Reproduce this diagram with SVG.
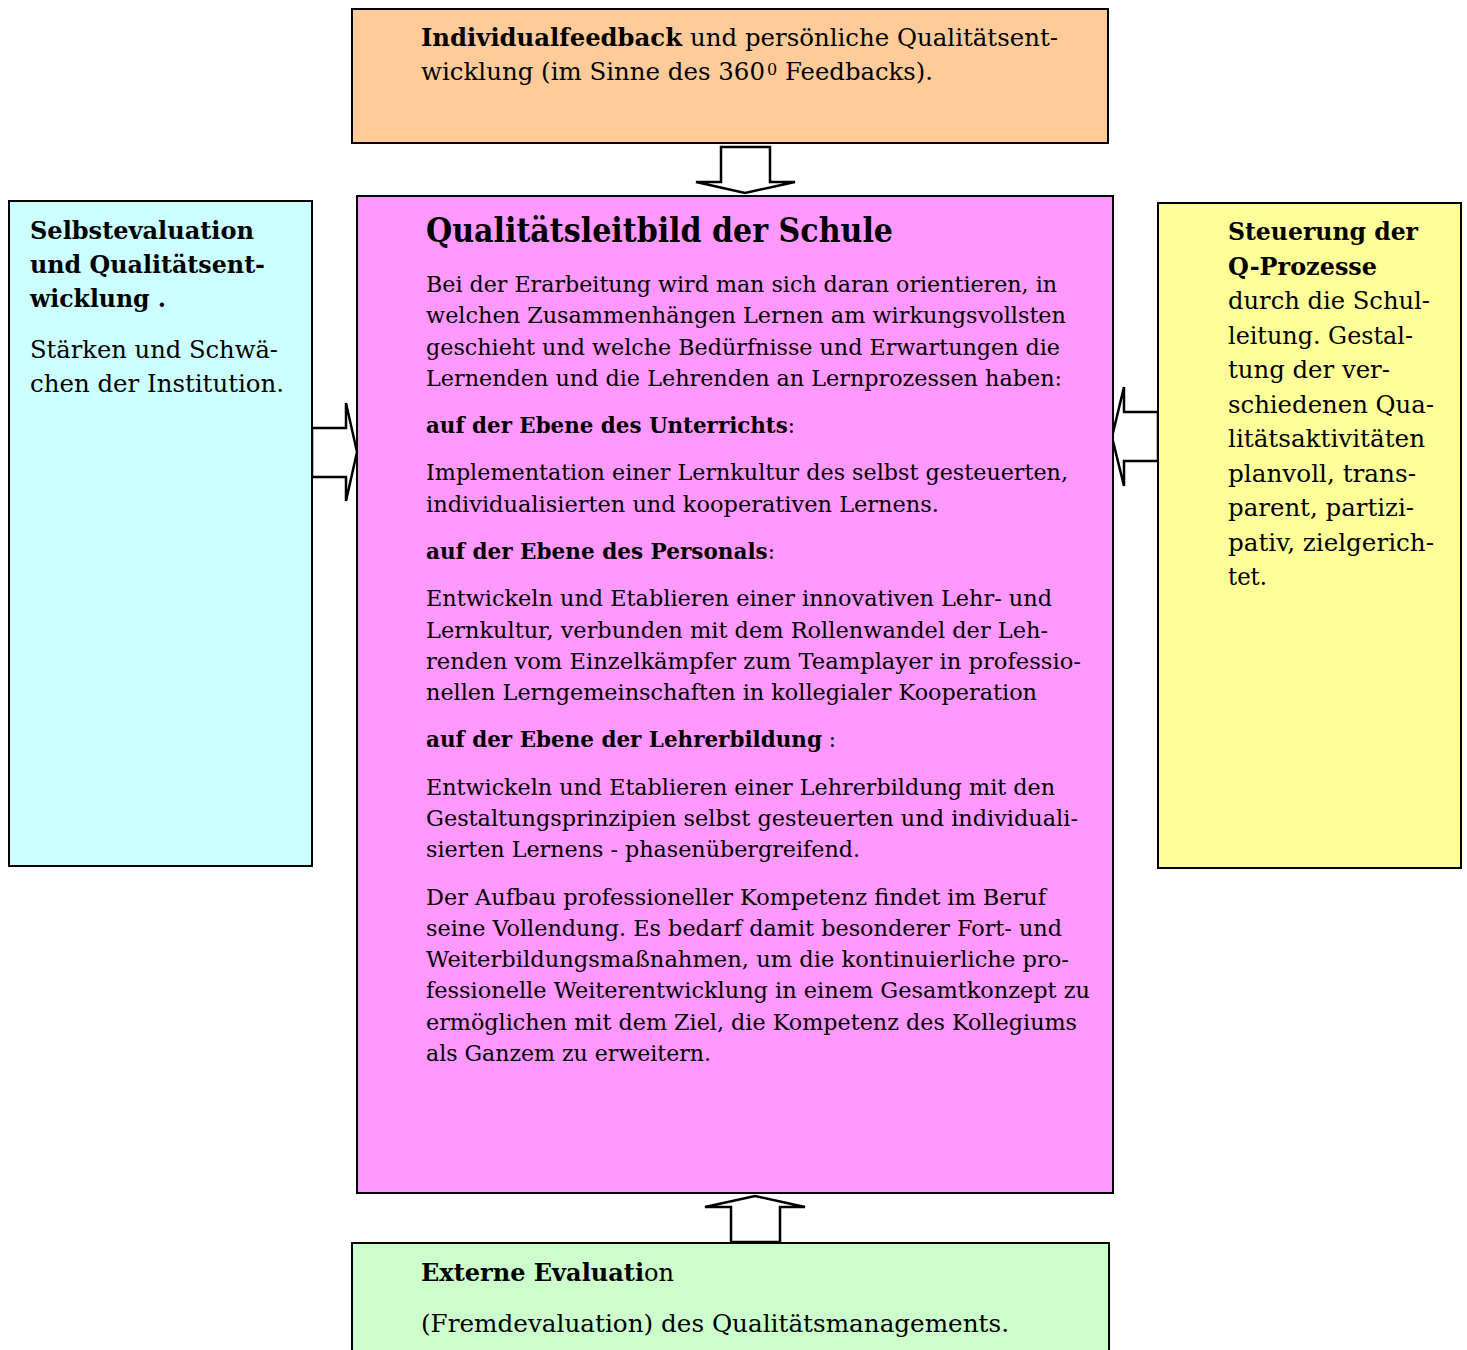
<svg xmlns="http://www.w3.org/2000/svg" width="1467" height="1350" viewBox="0 0 1467 1350">
<style>
.box{stroke:#000;stroke-width:2}
.arr{fill:#fff;stroke:#000;stroke-width:2.5;stroke-linejoin:miter}
text{font-family:"DejaVu Serif","Liberation Serif",serif;fill:#000}
.b{font-weight:bold}
.n{font-weight:normal}
.s{font-size:24px}
.m{font-size:22px}
.t{font-size:33px;font-weight:bold}
</style>
<rect width="1467" height="1350" fill="#fff"/>
<g id="connectors">
<polygon class="arr" points="721,147 770,147 770,182 795,182 745,193 696,182 721,182"/>
<polygon class="arr" points="312,428 346,428 346,403 357,452 346,501 346,477 312,477"/>
<polygon class="arr" points="1158,412 1124,412 1124,387 1112,437 1124,486 1124,461 1158,461"/>
<polygon class="arr" points="731,1242 780,1242 780,1207 805,1207 755,1196 705,1207 731,1207"/>
</g>
<g id="top">
<rect class="box" x="352" y="9" width="756" height="134" fill="#FFCC99"/>
<text class="s b" x="421" y="46" textLength="261" lengthAdjust="spacingAndGlyphs">Individualfeedback</text>
<text class="s" x="690" y="46" textLength="368" lengthAdjust="spacingAndGlyphs">und persönliche Qualitätsent-</text>
<text class="s" x="421" y="80" textLength="344" lengthAdjust="spacingAndGlyphs">wicklung (im Sinne des 360</text>
<text x="767" y="75" font-size="16">0</text>
<text class="s" x="785" y="80" textLength="148" lengthAdjust="spacingAndGlyphs">Feedbacks).</text>
</g>
<g id="left">
<rect class="box" x="9" y="201" width="303" height="665" fill="#CCFFFF"/>
<text class="s b" x="30" y="239" textLength="224" lengthAdjust="spacingAndGlyphs">Selbstevaluation</text>
<text class="s b" x="30" y="273" textLength="235" lengthAdjust="spacingAndGlyphs">und Qualitätsent-</text>
<text class="s b" x="30" y="307" textLength="136" lengthAdjust="spacingAndGlyphs">wicklung .</text>
<text class="s" x="30" y="358" textLength="248" lengthAdjust="spacingAndGlyphs">Stärken und Schwä-</text>
<text class="s" x="30" y="392" textLength="254" lengthAdjust="spacingAndGlyphs">chen der Institution.</text>
</g>
<g id="right">
<rect class="box" x="1158" y="203" width="303" height="665" fill="#FFFF99"/>
<text class="s b" x="1228" y="240" textLength="190" lengthAdjust="spacingAndGlyphs">Steuerung der</text>
<text class="s b" x="1228" y="275" textLength="149" lengthAdjust="spacingAndGlyphs">Q-Prozesse</text>
<text class="s" x="1228" y="309" textLength="202" lengthAdjust="spacingAndGlyphs">durch die Schul-</text>
<text class="s" x="1228" y="344" textLength="185" lengthAdjust="spacingAndGlyphs">leitung. Gestal-</text>
<text class="s" x="1228" y="378" textLength="162" lengthAdjust="spacingAndGlyphs">tung der ver-</text>
<text class="s" x="1228" y="413" textLength="206" lengthAdjust="spacingAndGlyphs">schiedenen Qua-</text>
<text class="s" x="1228" y="447" textLength="197" lengthAdjust="spacingAndGlyphs">litätsaktivitäten</text>
<text class="s" x="1228" y="482" textLength="188" lengthAdjust="spacingAndGlyphs">planvoll, trans-</text>
<text class="s" x="1228" y="516" textLength="186" lengthAdjust="spacingAndGlyphs">parent, partizi-</text>
<text class="s" x="1228" y="551" textLength="206" lengthAdjust="spacingAndGlyphs">pativ, zielgerich-</text>
<text class="s" x="1228" y="585" textLength="39" lengthAdjust="spacingAndGlyphs">tet.</text>
</g>
<g id="center">
<rect class="box" x="357" y="196" width="756" height="997" fill="#FF99FF"/>
<text class="t" x="426" y="242" textLength="467" lengthAdjust="spacingAndGlyphs">Qualitätsleitbild der Schule</text>
<text class="m" x="426" y="292" textLength="631" lengthAdjust="spacingAndGlyphs">Bei der Erarbeitung wird man sich daran orientieren, in</text>
<text class="m" x="426" y="323" textLength="640" lengthAdjust="spacingAndGlyphs">welchen Zusammenhängen Lernen am wirkungsvollsten</text>
<text class="m" x="426" y="355" textLength="634" lengthAdjust="spacingAndGlyphs">geschieht und welche Bedürfnisse und Erwartungen die</text>
<text class="m" x="426" y="386" textLength="636" lengthAdjust="spacingAndGlyphs">Lernenden und die Lehrenden an Lernprozessen haben:</text>
<text class="m b" x="426" y="433" textLength="369" lengthAdjust="spacingAndGlyphs">auf der Ebene des Unterrichts<tspan class="n">:</tspan></text>
<text class="m" x="426" y="480" textLength="642" lengthAdjust="spacingAndGlyphs">Implementation einer Lernkultur des selbst gesteuerten,</text>
<text class="m" x="426" y="512" textLength="513" lengthAdjust="spacingAndGlyphs">individualisierten und kooperativen Lernens.</text>
<text class="m b" x="426" y="559" textLength="349" lengthAdjust="spacingAndGlyphs">auf der Ebene des Personals<tspan class="n">:</tspan></text>
<text class="m" x="426" y="606" textLength="626" lengthAdjust="spacingAndGlyphs">Entwickeln und Etablieren einer innovativen Lehr- und</text>
<text class="m" x="426" y="638" textLength="622" lengthAdjust="spacingAndGlyphs">Lernkultur, verbunden mit dem Rollenwandel der Leh-</text>
<text class="m" x="426" y="669" textLength="655" lengthAdjust="spacingAndGlyphs">renden vom Einzelkämpfer zum Teamplayer in professio-</text>
<text class="m" x="426" y="700" textLength="611" lengthAdjust="spacingAndGlyphs">nellen Lerngemeinschaften in kollegialer Kooperation</text>
<text class="m b" x="426" y="747" textLength="410" lengthAdjust="spacingAndGlyphs">auf der Ebene der Lehrerbildung<tspan class="n"> :</tspan></text>
<text class="m" x="426" y="795" textLength="629" lengthAdjust="spacingAndGlyphs">Entwickeln und Etablieren einer Lehrerbildung mit den</text>
<text class="m" x="426" y="826" textLength="652" lengthAdjust="spacingAndGlyphs">Gestaltungsprinzipien selbst gesteuerten und individuali-</text>
<text class="m" x="426" y="857" textLength="434" lengthAdjust="spacingAndGlyphs">sierten Lernens - phasenübergreifend.</text>
<text class="m" x="426" y="905" textLength="620" lengthAdjust="spacingAndGlyphs">Der Aufbau professioneller Kompetenz findet im Beruf</text>
<text class="m" x="426" y="936" textLength="636" lengthAdjust="spacingAndGlyphs">seine Vollendung. Es bedarf damit besonderer Fort- und</text>
<text class="m" x="426" y="967" textLength="643" lengthAdjust="spacingAndGlyphs">Weiterbildungsmaßnahmen, um die kontinuierliche pro-</text>
<text class="m" x="426" y="998" textLength="664" lengthAdjust="spacingAndGlyphs">fessionelle Weiterentwicklung in einem Gesamtkonzept zu</text>
<text class="m" x="426" y="1030" textLength="651" lengthAdjust="spacingAndGlyphs">ermöglichen mit dem Ziel, die Kompetenz des Kollegiums</text>
<text class="m" x="426" y="1061" textLength="285" lengthAdjust="spacingAndGlyphs">als Ganzem zu erweitern.</text>
</g>
<g id="bottom">
<rect class="box" x="352" y="1243" width="757" height="120" fill="#CCFFCC"/>
<text class="s b" x="421" y="1281" textLength="253" lengthAdjust="spacingAndGlyphs">Externe Evaluati<tspan class="n">on</tspan></text>
<text class="s" x="421" y="1332" textLength="588" lengthAdjust="spacingAndGlyphs">(Fremdevaluation) des Qualitätsmanagements.</text>
</g>
</svg>
